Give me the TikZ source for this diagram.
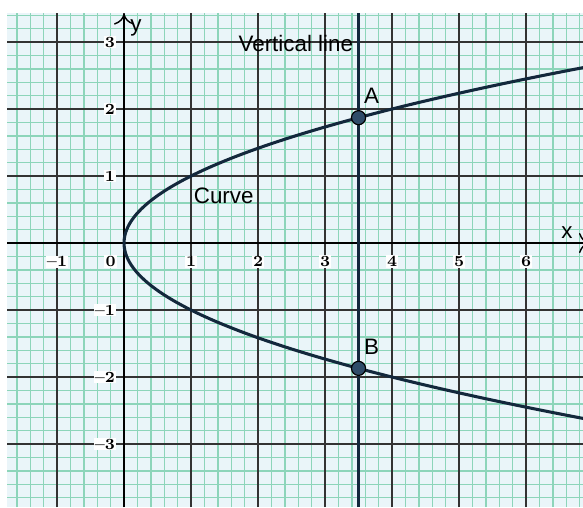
\documentclass[tikz,border=0pt]{standalone}
\usepackage{fontspec}
\setsansfont{Liberation Sans}
\usetikzlibrary{positioning,arrows.meta}
\definecolor{gridbg}{HTML}{EAF5F9}
\definecolor{gridminor}{HTML}{8DD5BA}
\definecolor{curvecol}{HTML}{13283C}
\definecolor{ptfill}{HTML}{2F4C69}
\tikzset{
  minorgrid/.style={gridminor,line width=0.6pt},
  majorgrid/.style={black!80,line width=0.6pt},
  osa/.style={black,line width=0.6pt},
  curve/.style={curvecol,line width=1.3pt},
  vline/.style={curvecol,line width=1.6pt},
  pt/.style={circle,draw=black,fill=ptfill,line width=0.5pt,minimum size=2.1mm,inner sep=0pt},
  tick/.style={font=\fontsize{6.6}{8}\selectfont\bfseries,fill=white,inner sep=0.5pt},
  lbl/.style={font=\sffamily\fontsize{9.5}{11}\selectfont,inner sep=1pt},
}

\begin{document}
\begin{tikzpicture}[>=Stealth]
  \useasboundingbox (-1.851,-3.94) rectangle (6.85,3.627);
  \clip (-1.851,-3.94) rectangle (6.85,3.627);
  % background and grid
  \fill[gridbg] (-1.746,-3.94) rectangle (6.85,3.433);
  \draw[minorgrid,step=0.2] (-1.746,-3.94) grid (6.85,3.433);
  \draw[majorgrid,step=1] (-1.746,-3.94) grid (6.85,3.433);
  % axes
  \coordinate (xl) at (-1.746,0); \coordinate (xr) at (6.95,0);
  \coordinate (yb) at (0,-3.94); \coordinate (yt) at (0,3.42);
  \draw[osa,-{To[length=1.6mm,width=3mm]}] (xl) -- (xr);
  \draw[osa,-{To[length=1.6mm,width=3mm]}] (yb) -- (yt);
  \node[lbl] (xlab) at (6.61,0.16) {x};
  \node[lbl] (ylab) at (0.18,3.21) {y};
  % tick labels
  \node[tick] (xm1) at (-1,-0.28) {--1};
  \node[tick] (x0) at (-0.2,-0.28) {0};
  \foreach \i in {1,...,6}
    \node[tick] (x\i) at (\i,-0.28) {\i};
  \foreach \i in {1,2,3}
    \node[tick,anchor=east] (y\i) at (-0.11,\i) {\i};
  \foreach \i in {1,2,3}
    \node[tick,anchor=east] (ym\i) at (-0.11,-\i) {--\i};
  % curve and vertical line
  \draw[curve,domain=-2.64:2.64,samples=120,smooth] plot ({\x*\x},{\x});
  \coordinate (vt) at (3.5,3.433); \coordinate (vb) at (3.5,-3.94);
  \draw[vline] (vb) -- (vt);
  \node[lbl,anchor=east] (vtext) at (3.46,2.98) {Vertical line};
  \node[lbl,anchor=west] (ctext) at (1.0,0.70) {Curve};
  % intersection points
  \node[pt] (A) at (3.5,{sqrt(3.5)}) {};
  \node[pt] (B) at (3.5,{-sqrt(3.5)}) {};
  \node[lbl,above right=0.9mm and -0.4mm of A] (Alab) {A};
  \node[lbl,above right=0.9mm and -0.4mm of B] (Blab) {B};
\end{tikzpicture}
\end{document}
